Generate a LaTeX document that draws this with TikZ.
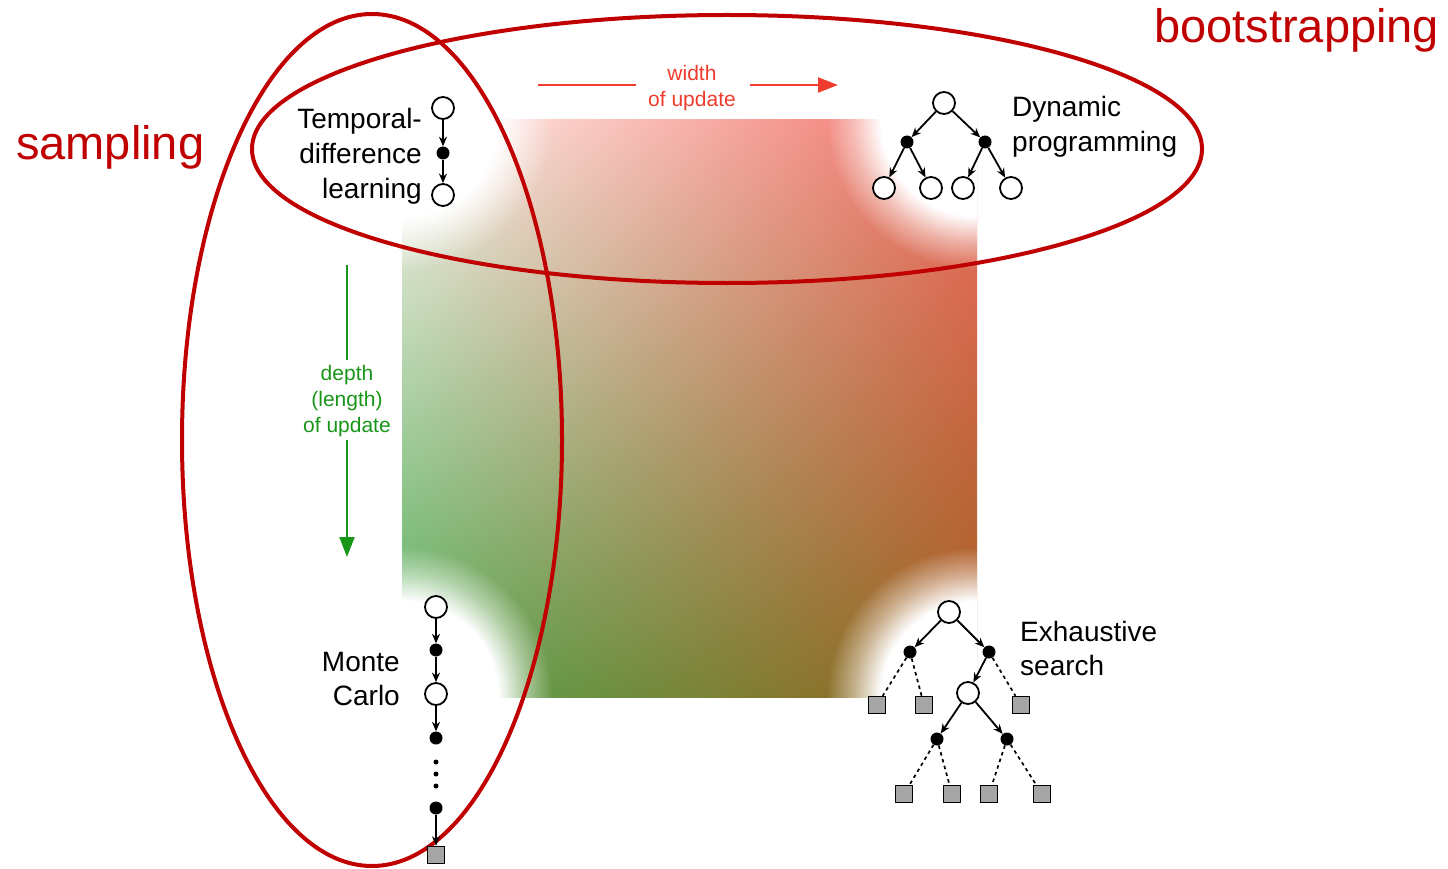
\documentclass[tikz,border=0pt]{standalone}
\usepackage{fontspec}
\setmainfont{Liberation Sans}
\usetikzlibrary{arrows.meta,fadings,shadings}
\pgfdeclareradialshading{cornerdiskshade}{\pgfpointorigin}{color(0bp)=(pgftransparent!0); color(16bp)=(pgftransparent!0); color(20.5bp)=(pgftransparent!55); color(25bp)=(pgftransparent!100); color(50bp)=(pgftransparent!100)}
\pgfdeclarefading{cornerdisk}{\pgfuseshading{cornerdiskshade}}
\definecolor{ellred}{RGB}{192,0,0}
\definecolor{widthred}{RGB}{240,60,45}
\definecolor{depthgreen}{RGB}{25,150,25}
\definecolor{termgray}{RGB}{165,165,165}
\definecolor{ulc}{RGB}{255,244,240}
\definecolor{urc}{RGB}{240,108,98}
\definecolor{llc}{RGB}{80,170,82}
\definecolor{lrc}{RGB}{160,95,30}
\begin{document}
\begin{tikzpicture}[x=1pt,y=-1pt,
  state/.style={circle,draw=black,fill=white,line width=1.8pt,minimum size=22pt,inner sep=0pt},
  action/.style={circle,fill=black,minimum size=13pt,inner sep=0pt},
  term/.style={rectangle,draw=black,fill=termgray,line width=1.4pt,minimum size=17pt,inner sep=0pt},
  dotnode/.style={circle,fill=black,minimum size=5pt,inner sep=0pt},
  bk/.style={-{Stealth[length=9.5pt,width=8pt]},line width=1.8pt},
  dsh/.style={line width=1.7pt,dash pattern=on 3.5pt off 3.5pt},
  lbl/.style={inner sep=0pt,font=\fontsize{28}{34}\selectfont},
  big/.style={inner sep=0pt,text=ellred,font=\fontsize{47}{56}\selectfont},
  ell/.style={draw=ellred,line width=4pt}
]
\useasboundingbox (0,0) rectangle (1448,869);
% gradient square
\shade[upper left=ulc,upper right=urc,lower left=llc,lower right=lrc] (402,120) rectangle (977,697);
\begin{scope}
  \clip (402,120) rectangle (977,697);
  \fill[white,path fading=cornerdisk] (402,120) circle (150);
  \fill[white,path fading=cornerdisk] (977,120) circle (150);
  \fill[white,path fading=cornerdisk] (402,697) circle (150);
  \fill[white,path fading=cornerdisk] (977,697) circle (150);
\end{scope}
% width of update
\coordinate (wa) at (538,85);
\coordinate (wb) at (636,85);
\coordinate (wc) at (750,85);
\coordinate (wd) at (838,85);
\draw[widthred,line width=2pt] (wa) -- (wb);
\draw[widthred,line width=2pt,-{Triangle[length=20pt,width=15pt]}] (wc) -- (wd);
\node[inner sep=0pt,align=center,text=widthred,font=\fontsize{21}{26}\selectfont] (wlbl) at (692,88) {width\\of update};
% depth of update
\coordinate (da) at (347,265);
\coordinate (db) at (347,360);
\coordinate (dc) at (347,440);
\coordinate (dd) at (347,557);
\draw[depthgreen,line width=2pt] (da) -- (db);
\draw[depthgreen,line width=2pt,-{Triangle[length=20pt,width=15pt]}] (dc) -- (dd);
\node[inner sep=0pt,align=center,text=depthgreen,font=\fontsize{21}{26}\selectfont] (dlbl) at (347,401) {depth\\(length)\\of update};
% ellipses
\draw[ell] (372,440) ellipse [x radius=190, y radius=426];
\draw[ell] (727,149) ellipse [x radius=475, y radius=134];
\node[big,anchor=base west] (samp) at (16,160) {sampling};
\node[big,anchor=base west] (boot) at (1154,43) {bootstrapping};
% TD
\node[state] (td1) at (443,108) {};
\node[action] (td2) at (443,153) {};
\node[state] (td3) at (443,195) {};
\draw[bk] (td1) -- (td2);
\draw[bk] (td2) -- (td3);
\node[lbl,anchor=base east] (tdt1) at (422,129) {Temporal-};
\node[lbl,anchor=base east] (tdt2) at (422,164) {difference};
\node[lbl,anchor=base east] (tdt3) at (422,199) {learning};
% DP
\node[state] (dp0) at (944,103) {};
\node[action] (dpa1) at (907,142) {};
\node[action] (dpa2) at (985,142) {};
\node[state] (dpl1) at (884,188) {};
\node[state] (dpl2) at (931,188) {};
\node[state] (dpl3) at (963,188) {};
\node[state] (dpl4) at (1011,188) {};
\draw[bk] (dp0) -- (dpa1);
\draw[bk] (dp0) -- (dpa2);
\draw[bk] (dpa1) -- (dpl1);
\draw[bk] (dpa1) -- (dpl2);
\draw[bk] (dpa2) -- (dpl3);
\draw[bk] (dpa2) -- (dpl4);
\node[lbl,anchor=base west] (dpt1) at (1012,117) {Dynamic};
\node[lbl,anchor=base west] (dpt2) at (1012,152) {programming};
% MC
\node[state] (mc1) at (436,607) {};
\node[action] (mc2) at (436,650) {};
\node[state] (mc3) at (436,694) {};
\node[action] (mc4) at (436,738) {};
\node[dotnode] (mcd1) at (436,762) {};
\node[dotnode] (mcd2) at (436,774) {};
\node[dotnode] (mcd3) at (436,786) {};
\node[action] (mc5) at (436,808) {};
\node[term] (mc6) at (436,855) {};
\draw[bk] (mc1) -- (mc2);
\draw[bk] (mc2) -- (mc3);
\draw[bk] (mc3) -- (mc4);
\draw[bk] (mc5) -- (mc6);
\node[lbl,anchor=base east] (mct1) at (400,671) {Monte};
\node[lbl,anchor=base east] (mct2) at (400,705) {Carlo};
% Exhaustive search
\node[state] (es0) at (949,612) {};
\node[action] (esa1) at (910,652) {};
\node[action] (esa2) at (989,652) {};
\node[term] (est1) at (877,705) {};
\node[term] (est2) at (924,705) {};
\node[state] (es1) at (968,693) {};
\node[term] (est3) at (1021,705) {};
\node[action] (esb1) at (937,739) {};
\node[action] (esb2) at (1007,739) {};
\node[term] (est4) at (904,794) {};
\node[term] (est5) at (952,794) {};
\node[term] (est6) at (989,794) {};
\node[term] (est7) at (1042,794) {};
\draw[bk] (es0) -- (esa1);
\draw[bk] (es0) -- (esa2);
\draw[dsh] (esa1) -- (est1);
\draw[dsh] (esa1) -- (est2);
\draw[bk] (esa2) -- (es1);
\draw[dsh] (esa2) -- (est3);
\draw[bk] (es1) -- (esb1);
\draw[bk] (es1) -- (esb2);
\draw[dsh] (esb1) -- (est4);
\draw[dsh] (esb1) -- (est5);
\draw[dsh] (esb2) -- (est6);
\draw[dsh] (esb2) -- (est7);
\node[lbl,anchor=base west] (est1t) at (1020,641) {Exhaustive};
\node[lbl,anchor=base west] (est2t) at (1020,675) {search};
\end{tikzpicture}
\end{document}
